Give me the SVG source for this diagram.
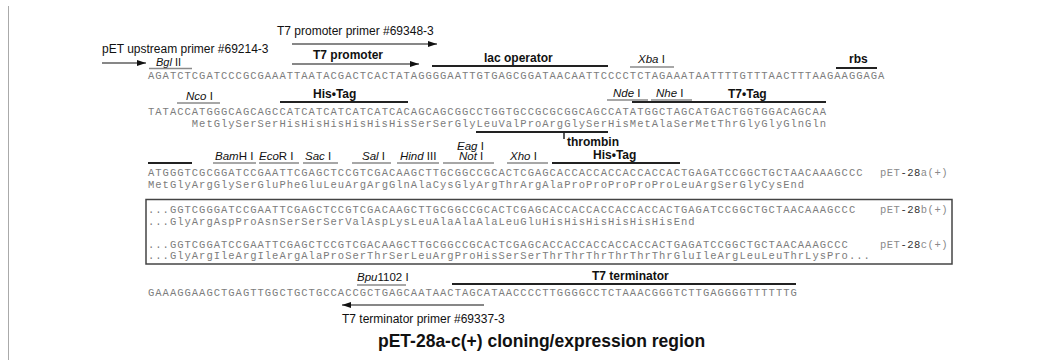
<svg xmlns="http://www.w3.org/2000/svg" width="1049" height="360" viewBox="0 0 1049 360">
<defs>
<marker id="ah" markerUnits="userSpaceOnUse" markerWidth="9" markerHeight="6" refX="9" refY="3" orient="auto"><path d="M0,0 L9,3 L0,6 z" fill="#111"/></marker>
</defs>
<style>
.seq{font-family:"Liberation Mono","DejaVu Sans Mono",monospace;font-size:10.5px;letter-spacing:1px;fill:#7c7c7c}
.tag{font-family:"Liberation Mono","DejaVu Sans Mono",monospace;font-size:10.5px;letter-spacing:0.5px;fill:#8a8a8a}
.dk{fill:#333}
.feat{font-family:"Liberation Sans",Arial,sans-serif;font-size:12px;font-weight:bold;fill:#111}
.lbl{font-family:"Liberation Sans",Arial,sans-serif;font-size:12px;fill:#111}
.enz{font-family:"Liberation Sans",Arial,sans-serif;font-size:11.5px;fill:#111}
.it{font-style:italic}
.bar{stroke:#222;stroke-width:2}
.ul{stroke:#8a8a8a;stroke-width:1.5}
.arr{stroke:#111;stroke-width:1.2;fill:none;marker-end:url(#ah)}
.cap{font-family:"Liberation Sans",Arial,sans-serif;font-size:17.5px;font-weight:bold;fill:#111}
</style>
<rect width="1049" height="360" fill="#fff"/>
<line x1="8.5" y1="6" x2="8.5" y2="360" stroke="#aaa" stroke-width="1"/>

<g id="connectors">
<line class="arr" x1="292" y1="44" x2="437" y2="44"/>
<line class="arr" x1="102" y1="63" x2="146" y2="63"/>
<line class="arr" x1="292" y1="64" x2="419" y2="64"/>
<line class="arr" x1="484" y1="305" x2="342" y2="305"/>
</g>

<g id="t7-promoter-primer"><text class="lbl" x="277" y="35">T7 promoter primer #69348-3</text></g>
<g id="pet-upstream-primer"><text class="lbl" x="102" y="53">pET upstream primer #69214-3</text></g>
<g id="bglII"><text class="enz" x="156" y="66" style="font-size:11px"><tspan class="it">Bgl</tspan> II</text><line class="ul" x1="149" y1="68.5" x2="192" y2="68.5"/></g>
<g id="t7-promoter"><text class="feat" x="313" y="59">T7 promoter</text></g>
<g id="lac-operator"><text class="feat" x="484" y="62">lac operator</text><line class="bar" x1="432" y1="66" x2="608" y2="66"/></g>
<g id="xbaI"><text class="enz" x="638" y="63"><tspan class="it">Xba</tspan> I</text><line class="ul" x1="630" y1="67" x2="674" y2="67"/></g>
<g id="rbs"><text class="feat" x="849" y="63">rbs</text><line class="bar" x1="836" y1="68" x2="877" y2="68"/></g>
<g id="seq1"><text class="seq" x="148" y="79">AGATCTCGATCCCGCGAAATTAATACGACTCACTATAGGGGAATTGTGAGCGGATAACAATTCCCCTCTAGAAATAATTTTGTTTAACTTTAAGAAGGAGA</text></g>

<g id="ncoI"><text class="enz" x="186" y="100"><tspan class="it">Nco</tspan> I</text><line class="ul" x1="177" y1="103" x2="220" y2="103"/></g>
<g id="his-tag-1"><text class="feat" x="313" y="98">His•Tag</text><line class="bar" x1="280" y1="102" x2="408" y2="102"/></g>
<g id="ndeI"><text class="enz" x="613" y="97"><tspan class="it">Nde</tspan> I</text><line class="ul" x1="607" y1="100" x2="648" y2="100"/></g>
<g id="nheI"><text class="enz" x="656" y="97"><tspan class="it">Nhe</tspan> I</text><line class="ul" x1="651" y1="100" x2="692" y2="100"/></g>
<g id="t7-tag"><text class="feat" x="728" y="98">T7•Tag</text><line class="bar" x1="632" y1="102" x2="826" y2="102"/><line class="bar" x1="148" y1="163" x2="192" y2="163"/></g>
<g id="seq2"><text class="seq" x="148" y="115">TATACCATGGGCAGCAGCCATCATCATCATCATCACAGCAGCGGCCTGGTGCCGCGCGGCAGCCATATGGCTAGCATGACTGGTGGACAGCAA</text>
<text class="seq" x="191.8" y="127">MetGlySerSerHisHisHisHisHisHisSerSerGlyLeuValProArgGlySerHisMetAlaSerMetThrGlyGlyGlnGln</text></g>
<g id="thrombin"><line class="bar" x1="476" y1="132" x2="608" y2="132"/><line x1="564" y1="131" x2="564" y2="139" stroke="#222" stroke-width="1.5"/><text class="feat" x="567" y="146">thrombin</text></g>

<g id="bamHI"><text class="enz" x="215" y="160"><tspan class="it">Bam</tspan>H I</text><line class="ul" x1="213" y1="163" x2="256" y2="163"/></g>
<g id="ecoRI"><text class="enz" x="259" y="160"><tspan class="it">Eco</tspan>R I</text><line class="ul" x1="259" y1="163" x2="299" y2="163"/></g>
<g id="sacI"><text class="enz" x="305" y="160"><tspan class="it">Sac</tspan> I</text><line class="ul" x1="303" y1="163" x2="338" y2="163"/></g>
<g id="salI"><text class="enz" x="362" y="160"><tspan class="it">Sal</tspan> I</text><line class="ul" x1="352" y1="163" x2="391" y2="163"/></g>
<g id="hindIII"><text class="enz" x="400" y="160"><tspan class="it">Hind</tspan> III</text><line class="ul" x1="397" y1="163" x2="439" y2="163"/></g>
<g id="eagI-notI"><text class="enz" x="457" y="150"><tspan class="it">Eag</tspan> I</text><text class="enz" x="459" y="160"><tspan class="it">Not</tspan> I</text><line class="ul" x1="443" y1="163" x2="494" y2="163"/></g>
<g id="xhoI"><text class="enz" x="510" y="160"><tspan class="it">Xho</tspan> I</text><line class="ul" x1="507" y1="163" x2="548" y2="163"/></g>
<g id="his-tag-2"><text class="feat" x="593" y="159">His•Tag</text><line class="bar" x1="552" y1="163" x2="680" y2="163"/></g>
<g id="seq3"><text class="seq" x="148" y="176">ATGGGTCGCGGATCCGAATTCGAGCTCCGTCGACAAGCTTGCGGCCGCACTCGAGCACCACCACCACCACCACTGAGATCCGGCTGCTAACAAAGCCC</text>
<text class="seq" x="148" y="188">MetGlyArgGlySerGluPheGluLeuArgArgGlnAlaCysGlyArgThrArgAlaProProProProProLeuArgSerGlyCysEnd</text>
<text class="tag" x="880" y="176">pET<tspan class="dk">-28</tspan>a(+)</text></g>

<g id="box-bc">
<rect x="146" y="199.5" width="806" height="64.5" fill="none" stroke="#444" stroke-width="1.5"/>
<text class="seq" x="148" y="213">...GGTCGGGATCCGAATTCGAGCTCCGTCGACAAGCTTGCGGCCGCACTCGAGCACCACCACCACCACCACTGAGATCCGGCTGCTAACAAAGCCC</text>
<text class="seq" x="148" y="225">...GlyArgAspProAsnSerSerSerValAspLysLeuAlaAlaAlaLeuGluHisHisHisHisHisHisEnd</text>
<text class="tag" x="880" y="213">pET<tspan class="dk">-28</tspan>b(+)</text>
<text class="seq" x="148" y="248">...GGTCGGATCCGAATTCGAGCTCCGTCGACAAGCTTGCGGCCGCACTCGAGCACCACCACCACCACCACTGAGATCCGGCTGCTAACAAAGCCC</text>
<text class="seq" x="148" y="259">...GlyArgIleArgIleArgAlaProSerThrSerLeuArgProHisSerSerThrThrThrThrThrThrGluIleArgLeuLeuThrLysPro...</text>
<text class="tag" x="880" y="248">pET<tspan class="dk">-28</tspan>c(+)</text>
</g>

<g id="bpu1102I"><text class="enz" x="357" y="281"><tspan class="it">Bpu</tspan>1102 I</text><line class="ul" x1="357" y1="285" x2="406" y2="285"/></g>
<g id="t7-terminator"><text class="feat" x="592" y="280">T7 terminator</text><line class="bar" x1="452" y1="284" x2="796" y2="284"/></g>
<g id="seq4"><text class="seq" x="148" y="296">GAAAGGAAGCTGAGTTGGCTGCTGCCACCGCTGAGCAATAACTAGCATAACCCCTTGGGGCCTCTAAACGGGTCTTGAGGGGTTTTTTG</text></g>
<g id="t7-terminator-primer"><text class="lbl" x="342" y="323">T7 terminator primer #69337-3</text></g>
<g id="caption"><text class="cap" x="378" y="347">pET-28a-c(+) cloning/expression region</text></g>
</svg>
